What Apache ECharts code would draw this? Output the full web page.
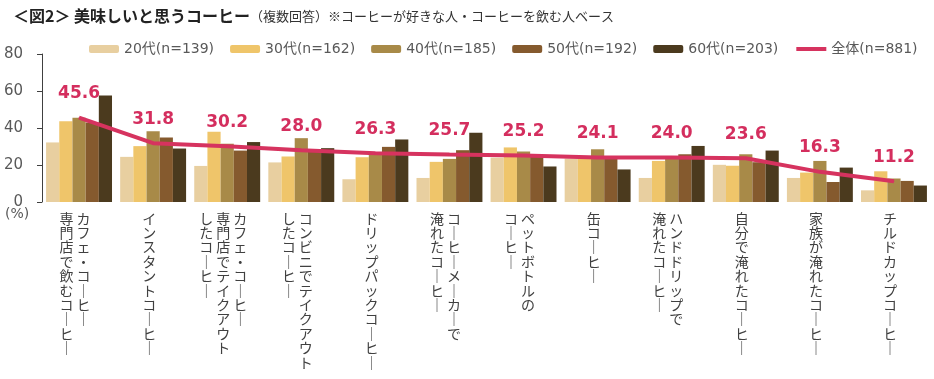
<!DOCTYPE html>
<html><head><meta charset="utf-8">
<script src="https://cdn.jsdelivr.net/npm/echarts@6/dist/echarts.min.js"></script>
<style>html,body{margin:0;padding:0;background:#fff}#c{width:934px;height:379px}</style>
</head><body><div id="c"></div>
<script>
const categories = [
  "カフェ・コーヒー\n専門店で飲むコーヒー",
  "インスタントコーヒー",
  "カフェ・コーヒー\n専門店でテイクアウト\nしたコーヒー",
  "コンビニでテイクアウト\nしたコーヒー",
  "ドリップパックコーヒー",
  "コーヒーメーカーで\n淹れたコーヒー",
  "ペットボトルの\nコーヒー",
  "缶コーヒー",
  "ハンドドリップで\n淹れたコーヒー",
  "自分で淹れたコーヒー",
  "家族が淹れたコーヒー",
  "チルドカップコーヒー"
];
const seriesNames = ["20代(n=139)", "30代(n=162)", "40代(n=185)", "50代(n=192)", "60代(n=203)"];
const lineName = "全体(n=881)";
const v20 = [32.2, 24.4, 19.5, 21.4, 12.3, 13.0, 24.0, 23.5, 13.0, 20.1, 13.0, 6.3];
const v30 = [43.7, 30.2, 38.0, 24.6, 24.2, 21.7, 29.5, 23.5, 22.2, 19.6, 15.9, 16.6];
const v40 = [45.6, 38.3, 31.5, 34.5, 25.5, 23.3, 27.3, 28.5, 23.8, 25.8, 22.2, 12.7];
const v50 = [43.0, 34.9, 27.8, 28.3, 29.8, 28.0, 24.5, 23.5, 25.8, 21.5, 10.8, 11.4];
const v60 = [57.6, 28.9, 32.4, 29.1, 33.8, 37.4, 19.2, 17.6, 30.3, 27.8, 18.6, 8.9];
const total = [45.6, 31.8, 30.2, 28.0, 26.3, 25.7, 25.2, 24.1, 24.0, 23.6, 16.3, 11.2];
const yTicks = [0, 20, 40, 60, 80];

const barColors = ["#E8CFA0", "#EFC56A", "#A88A48", "#855A2E", "#4B3A1E"];
const lineColor = "#D6335F";
const FONT = "'DejaVu Sans', 'Noto Sans CJK JP', sans-serif";
const CJK = "'Noto Sans CJK JP', sans-serif";

function vertical(s) {
  const cols = s.split('\n');
  const n = Math.max.apply(null, cols.map(c => c.length));
  const rows = [];
  for (let i = 0; i < n; i++) {
    let r = '';
    for (let j = cols.length - 1; j >= 0; j--) {
      let ch = cols[j][i] || '　';
      if (ch === 'ー') ch = '｜';
      r += '{c|' + ch + '}';
    }
    rows.push(r);
  }
  return rows.join('\n');
}

const barData = [v20, v30, v40, v50, v60];
const series = barData.map((d, i) => ({
  name: seriesNames[i], type: 'bar', data: d, barGap: 0, barCategoryGap: '11%',
  itemStyle: { color: barColors[i] }, z: 2
}));
series.push({
  name: lineName, type: 'line', data: total, symbol: 'circle', symbolSize: 1, showSymbol: true, z: 5,
  lineStyle: { color: lineColor, width: 4 }, itemStyle: { color: lineColor },
  label: { show: true, position: 'top', distance: 15, color: '#D42E5E', fontSize: 17, fontWeight: 'bold', fontFamily: FONT,
    formatter: p => p.value.toFixed(1) },
  labelLayout: { hideOverlap: false }
});

const chart = echarts.init(document.getElementById('c'), null, { renderer: 'canvas' });
chart.setOption({
  animation: false,
  title: {
    left: 8, top: 3,
    text: '＜図2＞ 美味しいと思うコーヒー{s|（複数回答）※コーヒーが好きな人・コーヒーを飲む人ベース}',
    textStyle: { fontFamily: CJK, fontSize: 16, fontWeight: 'bold', color: '#222',
      rich: { s: { fontFamily: CJK, fontSize: 13, fontWeight: 'normal', color: '#333' } } }
  },
  legend: {
    left: 84, top: 37, itemWidth: 30, itemHeight: 8, itemGap: 16,
    textStyle: { fontFamily: FONT, fontSize: 14, color: '#595959' },
    data: seriesNames.concat([{ name: lineName, itemStyle: { opacity: 0 }, lineStyle: { width: 4, color: lineColor } }])
  },
  grid: { left: 42, right: 3, top: 54, bottom: 177 },
  xAxis: {
    type: 'category', data: categories,
    axisLine: { show: false }, axisTick: { show: false },
    axisLabel: { interval: 0, margin: 9, padding: [0, 8, 0, 0], formatter: v => vertical(v),
      rich: { c: { width: 17, align: 'center', fontSize: 14, lineHeight: 14.4, color: '#404040', fontFamily: CJK } } }
  },
  yAxis: {
    type: 'value', min: yTicks[0], max: yTicks[yTicks.length - 1], interval: 20,
    splitLine: { show: false },
    axisLine: { show: true, lineStyle: { color: '#404040', width: 1 } },
    axisTick: { show: true, length: 5, lineStyle: { color: '#404040' } },
    axisLabel: { margin: 19, fontFamily: FONT, fontSize: 15, color: '#595959' }
  },
  graphic: [{ type: 'text', left: 5, top: 207, style: { text: '(%)', fontFamily: FONT, fontSize: 14, fill: '#595959' } }],
  series: series
});
</script></body></html>
